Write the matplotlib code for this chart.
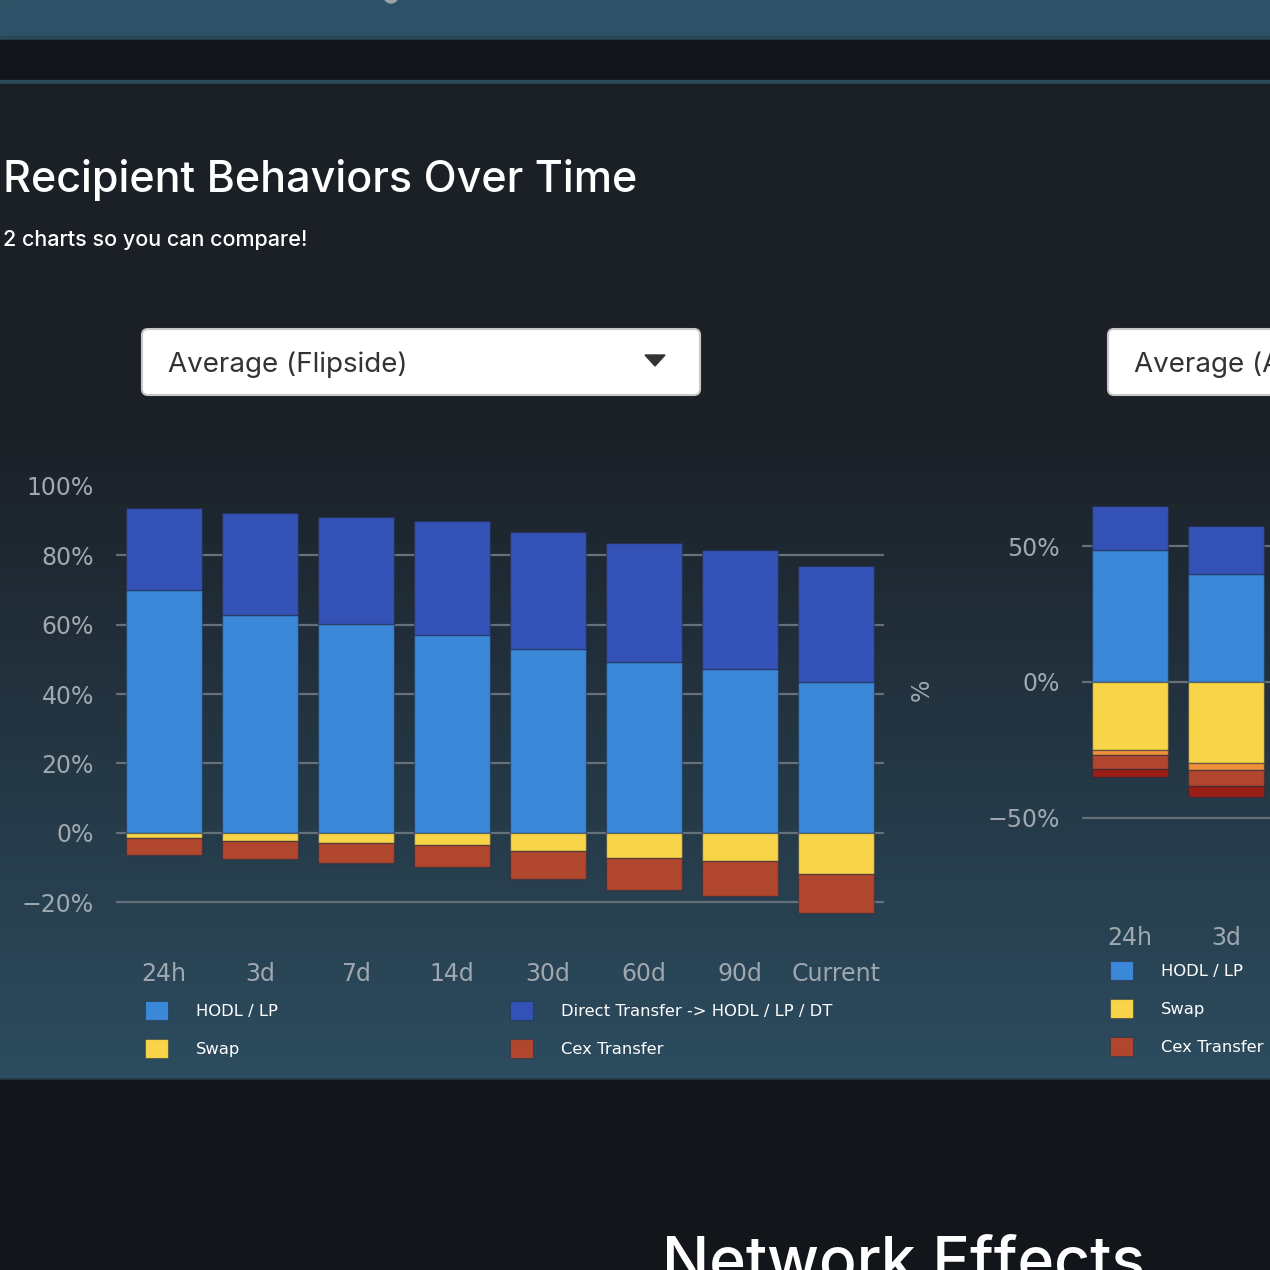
import matplotlib.pyplot as plt
from matplotlib.patches import Rectangle, FancyBboxPatch, Polygon, Patch, Circle
from matplotlib.collections import PatchCollection
import numpy as np

W = 1270
H = 1270

# left chart: Average (Flipside)
periods = ["24h", "3d", "7d", "14d", "30d", "60d", "90d", "Current"]
hodl_lp = [69.9, 62.8, 60.3, 56.9, 52.9, 49.2, 47.1, 43.4]
direct_transfer = [23.7, 29.5, 30.9, 33.0, 33.8, 34.3, 34.5, 33.4]
swap = [-1.6, -2.5, -2.9, -3.7, -5.2, -7.2, -8.3, -11.8]
cex_transfer = [-4.7, -5.1, -5.9, -6.3, -8.1, -9.2, -10.0, -11.3]

# right chart, only the first two bars are on screen
periods_r = ["24h", "3d"]
hodl_lp_r = [48.5, 39.6]
direct_transfer_r = [16.2, 18.0]
swap_r = [-25.2, -30.0]
orange_r = [-1.8, -2.6]
cex_transfer_r = [-5.2, -5.8]
darkred_r = [-2.9, -3.9]

left_ticks = [-20, 0, 20, 40, 60, 80, 100]
right_ticks = [-50, 0, 50]

C_HODL = "#3b87d8"
C_DT = "#3452b5"
C_SWAP = "#f8d548"
C_CEX = "#b1462e"
C_ORANGE = "#f0913a"
C_DRED = "#981e16"
EDGE = (0.12, 0.16, 0.24, 0.45)
TICK = "#a0a8af"
GRID = "#65707a"
FONT = "DejaVu Sans"


def px_rect(x0, y0, x1, y1):
    # pixel box (y down) -> figure fraction box
    return [x0 / W, 1 - y1 / H, (x1 - x0) / W, (y1 - y0) / H]


fig = plt.figure(figsize=(W / 100, H / 100), dpi=100)

# page background drawn in pixel coordinates
bg = fig.add_axes([0, 0, 1, 1], zorder=0)
bg.axis("off")
bg.set_xlim(0, W)
bg.set_ylim(H, 0)
bg.add_patch(Rectangle((0, 0), W, 36, color="#2d5166"))
bg.add_patch(Rectangle((0, 36), W, 4, color="#2b4657"))
bg.add_patch(Rectangle((0, 40), W, 40, color="#12151a"))
bg.add_patch(Rectangle((0, 80), W, 4, color="#2b4a5c"))
bg.add_patch(Rectangle((0, 84), W, 340, color="#1b1f26"))
bg.add_patch(Rectangle((0, 1076), W, 4, color="#2a3c48"))
bg.add_patch(Rectangle((0, 1080), W, H - 1080, color="#12151a"))
bg.add_patch(Circle((391, -4), 7, color="#9aa1a8"))

# vertical gradient of the chart panel, as thin strips
top_c = np.array([0x1b, 0x1f, 0x26]) / 255
bot_c = np.array([0x2c, 0x4c, 0x5f]) / 255
ys = np.arange(423, 1076, 2)
strips = [Rectangle((0, y), W, 2.5) for y in ys]
tt = (ys - 423) / (1076 - 423)
cols = [tuple(top_c * (1 - v) + bot_c * v) for v in tt]
bg.add_collection(PatchCollection(strips, facecolors=cols, edgecolors="none", lw=0))

bg.text(3, 192, "Recipient Behaviors Over Time", color="white", fontsize=31,
        family="Inter", fontweight="medium", va="baseline")
bg.text(3, 246, "2 charts so you can compare!", color="white", fontsize=15.5,
        family="Inter", fontweight="medium", va="baseline")

# dropdowns
for x0, x1, label in [(142, 700, "Average (Flipside)"), (1108, 1400, "Average (A")]:
    bg.add_patch(FancyBboxPatch((x0, 329), x1 - x0, 66,
                                boxstyle="round,pad=0,rounding_size=6",
                                facecolor="white", edgecolor="#c8c8c8", lw=1.5))
    bg.text(x0 + 26, 372, label, color="#333333", fontsize=20,
            family="Inter", va="baseline")
bg.add_patch(Polygon([(645, 355), (665, 355), (655, 366)], color="#333333"))

bg.text(662, 1281, "Network Effects", color="white", fontsize=45,
        family="Inter", fontweight="medium", va="baseline")

x = np.arange(len(periods))
xr = np.arange(len(periods_r))

# left chart
ax = fig.add_axes(px_rect(116, 486, 884, 954), zorder=1)
ax.patch.set_visible(False)
ax.bar(x, hodl_lp, 0.8, color=C_HODL, edgecolor=EDGE, lw=1)
ax.bar(x, direct_transfer, 0.8, bottom=hodl_lp, color=C_DT, edgecolor=EDGE, lw=1)
ax.bar(x, swap, 0.8, color=C_SWAP, edgecolor=EDGE, lw=1)
ax.bar(x, cex_transfer, 0.8, bottom=swap, color=C_CEX, edgecolor=EDGE, lw=1)
ax.set_xlim(-0.5, len(periods) - 0.5)
ax.set_ylim(-35, 100)
ax.set_yticks(left_ticks)
ax.set_yticklabels([f"{v}%".replace("-", "\u2212") for v in left_ticks])
ax.set_xticks(x)
ax.set_xticklabels(periods)

# right chart
ax2 = fig.add_axes(px_rect(1082, 462, 1850, 918), zorder=1)
ax2.patch.set_visible(False)
ax2.bar(xr, hodl_lp_r, 0.8, color=C_HODL, edgecolor=EDGE, lw=1)
ax2.bar(xr, direct_transfer_r, 0.8, bottom=hodl_lp_r, color=C_DT, edgecolor=EDGE, lw=1)
ax2.bar(xr, swap_r, 0.8, color=C_SWAP, edgecolor=EDGE, lw=1)
b1 = np.array(swap_r)
ax2.bar(xr, orange_r, 0.8, bottom=b1, color=C_ORANGE, edgecolor=EDGE, lw=1)
b2 = b1 + np.array(orange_r)
ax2.bar(xr, cex_transfer_r, 0.8, bottom=b2, color=C_CEX, edgecolor=EDGE, lw=1)
b3 = b2 + np.array(cex_transfer_r)
ax2.bar(xr, darkred_r, 0.8, bottom=b3, color=C_DRED, edgecolor=EDGE, lw=1)
ax2.set_xlim(-0.5, 7.5)
ax2.set_ylim(-87, 81)
ax2.set_yticks(right_ticks)
ax2.set_yticklabels([f"{v}%".replace("-", "\u2212") for v in right_ticks])
ax2.set_xticks(xr)
ax2.set_xticklabels(periods_r)
ax2.set_ylabel("%", color=TICK, fontsize=17, family=FONT, rotation=90, va="center")
ax2.yaxis.set_label_coords((922 - 1082) / 768, (918 - 690) / 456)

for a in (ax, ax2):
    for s in a.spines.values():
        s.set_visible(False)
    a.set_axisbelow(True)
    a.yaxis.grid(True, color=GRID, lw=1.6)
    a.tick_params(length=0, colors=TICK, labelsize=17)
    a.tick_params(axis="y", pad=16)
    a.tick_params(axis="x", pad=6)
    for lab in a.get_xticklabels() + a.get_yticklabels():
        lab.set_family(FONT)
ax.get_ygridlines()[-1].set_visible(False)


# legends
def handle(c):
    return Patch(facecolor=c, edgecolor=EDGE, lw=0.8)


leg_kw = dict(frameon=False, handlelength=1.4, handleheight=1.4,
              handletextpad=1.7, labelspacing=1.17, borderpad=0, borderaxespad=0,
              loc="upper left", bbox_transform=fig.transFigure, labelcolor="white",
              prop={"family": FONT, "size": 11.8})
leg_a = ax.legend([handle(C_HODL), handle(C_SWAP)], ["HODL / LP", "Swap"],
                  bbox_to_anchor=(145 / W, 1 - 1001 / H), **leg_kw)
ax.add_artist(leg_a)
ax.legend([handle(C_DT), handle(C_CEX)], ["Direct Transfer -> HODL / LP / DT", "Cex Transfer"],
          bbox_to_anchor=(510 / W, 1 - 1001 / H), **leg_kw)
ax2.legend([handle(C_HODL), handle(C_SWAP), handle(C_CEX)],
           ["HODL / LP", "Swap", "Cex Transfer"],
           bbox_to_anchor=(1110 / W, 1 - 961 / H), **leg_kw)

fig.savefig("out.png", dpi=100)
